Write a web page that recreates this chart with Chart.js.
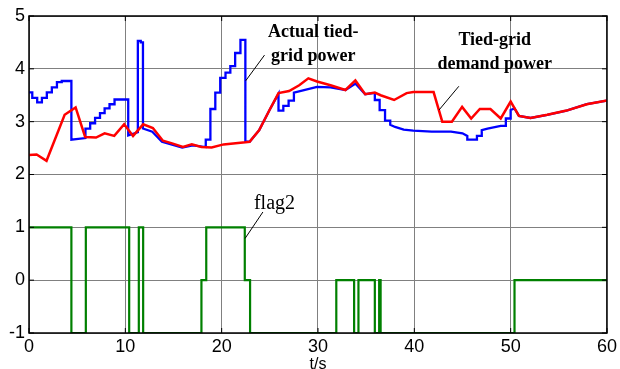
<!DOCTYPE html>
<html>
<head>
<meta charset="utf-8">
<script src="https://cdn.jsdelivr.net/npm/chart.js@4.4.1/dist/chart.umd.min.js"></script>
<style>
  html, body { margin: 0; padding: 0; background: #fff; overflow: hidden; }
  #wrap { width: 620px; height: 369px; overflow: hidden; }
</style>
</head>
<body>
<div id="wrap"><canvas id="chart" width="620" height="380"></canvas></div>
<script>
// Actual tied-grid power (blue), vertical steps given as repeated times
const blueT = [0, 0.34, 0.34, 0.85, 0.85, 1.34, 1.34, 1.85, 1.85, 2.37, 2.37, 2.9, 2.9, 3.4, 3.4, 4.4, 4.4, 5.86, 5.86, 6.35, 6.35, 6.86, 6.86, 7.37, 7.37, 7.85, 7.85, 8.36, 8.36, 8.88, 8.88, 10.3, 10.3, 11.3, 11.3, 11.6, 11.6, 11.83, 11.83, 12.8, 13.8, 15.9, 17.0, 18.35, 18.35, 18.83, 18.83, 19.34, 19.34, 19.85, 19.85, 20.4, 20.4, 20.9, 20.9, 21.4, 21.4, 21.95, 21.95, 22.46, 22.46, 22.9, 23.9, 24.97, 25.9, 25.9, 26.4, 26.4, 26.95, 26.95, 27.5, 27.5, 29.9, 31.3, 32.85, 33.9, 34.9, 35.7, 35.9, 35.9, 36.4, 36.4, 36.96, 36.96, 37.5, 37.5, 38.0, 38.9, 39.9, 41.8, 43.8, 45.0, 45.5, 45.5, 46.5, 46.5, 47.0, 47.0, 47.6, 48.97, 49.5, 49.5, 50.0, 50.0, 50.4, 50.86, 52.06, 53.8, 55.8, 57.9, 60];
const blueV = [3.555, 3.555, 3.45, 3.45, 3.365, 3.365, 3.45, 3.45, 3.555, 3.555, 3.65, 3.65, 3.75, 3.75, 3.77, 3.77, 2.66, 2.69, 2.87, 2.87, 2.97, 2.97, 3.07, 3.07, 3.16, 3.16, 3.25, 3.25, 3.33, 3.33, 3.42, 3.42, 2.74, 2.8, 4.53, 4.53, 4.5, 4.5, 2.87, 2.81, 2.62, 2.51, 2.55, 2.52, 2.66, 2.66, 3.24, 3.24, 3.55, 3.55, 3.83, 3.83, 3.93, 3.93, 4.05, 4.05, 4.3, 4.3, 4.55, 4.55, 2.62, 2.62, 2.84, 3.22, 3.53, 3.21, 3.21, 3.3, 3.3, 3.4, 3.4, 3.55, 3.66, 3.65, 3.6, 3.72, 3.52, 3.54, 3.54, 3.41, 3.41, 3.22, 3.22, 3.02, 3.02, 2.94, 2.9, 2.85, 2.83, 2.81, 2.81, 2.78, 2.73, 2.66, 2.66, 2.73, 2.73, 2.84, 2.87, 2.92, 2.92, 3.06, 3.06, 3.22, 3.25, 3.11, 3.07, 3.13, 3.21, 3.33, 3.4];

// Tied-grid demand power (red)
const redT = [0, 0.79, 1.82, 3.7, 4.84, 5.83, 6.96, 7.85, 8.85, 9.88, 10.8, 11.85, 12.86, 13.9, 14.85, 15.98, 16.9, 17.9, 18.96, 20.2, 22.46, 22.9, 23.9, 24.97, 25.9, 27.0, 28.05, 29.0, 29.9, 31.3, 32.85, 33.88, 34.9, 35.9, 36.5, 37.9, 39.2, 39.9, 42.0, 42.9, 43.9, 44.96, 45.9, 46.8, 47.9, 48.97, 50.0, 50.86, 52.06, 53.8, 55.8, 57.9, 60];
const redV = [2.37, 2.38, 2.26, 3.13, 3.27, 2.71, 2.7, 2.78, 2.73, 2.95, 2.73, 2.95, 2.88, 2.64, 2.59, 2.52, 2.57, 2.52, 2.51, 2.57, 2.61, 2.62, 2.84, 3.22, 3.54, 3.58, 3.69, 3.82, 3.76, 3.69, 3.6, 3.78, 3.52, 3.55, 3.5, 3.41, 3.54, 3.56, 3.56, 3.0, 3.0, 3.28, 3.06, 3.24, 3.24, 3.06, 3.38, 3.11, 3.07, 3.13, 3.21, 3.33, 3.4];

// flag2 (green): value holds from each time until the next one
const flagT = [0, 4.4, 5.9, 10.4, 11.4, 11.85, 17.9, 18.4, 22.4, 22.95, 31.9, 33.75, 34.2, 35.9, 36.35, 36.5, 50.4, 60];
const flagV = [1, -1, 1, -1, 1, -1, 0, 1, 0, -1, 0, -1, 0, -1, 0, -1, 0, 0];

const xTicks = [0, 10, 20, 30, 40, 50, 60];
const yTicks = [-1, 0, 1, 2, 3, 4, 5];

const pts = (t, v) => t.map((x, i) => ({ x, y: v[i] }));

// labels with leader lines, in data units
const notes = [
    { lines: ["Actual tied-", "grid power"], x: 29.5, y: [4.61, 4.15], bold: true, align: "center", lead: [22.5, 3.775, 24.45, 4.26] },
    { lines: ["Tied-grid", "demand power"], x: 48.35, y: [4.45, 3.99], bold: true, align: "center", lead: [42.56, 3.22, 44.62, 3.67] },
    { lines: ["flag2"], x: 23.35, y: [1.345], bold: false, align: "left", lead: [22.43, 0.79, 24.28, 1.29] },
];

const framePlugin = {
    id: "frame",
    afterDatasetsDraw(chart) {
        const { ctx, chartArea: a, scales: { x, y } } = chart;
        ctx.save();
        // leader lines and labels
        ctx.strokeStyle = "#000";
        ctx.lineWidth = 1;
        ctx.fillStyle = "#000";
        ctx.textBaseline = "alphabetic";
        notes.forEach(n => {
            ctx.beginPath();
            ctx.moveTo(x.getPixelForValue(n.lead[0]), y.getPixelForValue(n.lead[1]));
            ctx.lineTo(x.getPixelForValue(n.lead[2]), y.getPixelForValue(n.lead[3]));
            ctx.stroke();
            ctx.font = (n.bold ? "bold 18px" : "20px") + " 'Liberation Serif', 'Times New Roman', serif";
            ctx.textAlign = n.align;
            n.lines.forEach((s, i) => ctx.fillText(s, x.getPixelForValue(n.x), y.getPixelForValue(n.y[i])));
        });
        // box
        ctx.lineWidth = 1.5;
        ctx.strokeRect(a.left, a.top, a.right - a.left, a.bottom - a.top);
        // inward tick marks on all sides
        ctx.lineWidth = 1;
        ctx.beginPath();
        xTicks.forEach(v => {
            const px = x.getPixelForValue(v);
            ctx.moveTo(px, a.bottom); ctx.lineTo(px, a.bottom - 5);
            ctx.moveTo(px, a.top); ctx.lineTo(px, a.top + 5);
        });
        yTicks.forEach(v => {
            const py = y.getPixelForValue(v);
            ctx.moveTo(a.left, py); ctx.lineTo(a.left + 5, py);
            ctx.moveTo(a.right, py); ctx.lineTo(a.right - 5, py);
        });
        ctx.stroke();
        ctx.restore();
    }
};

const tickFont = { family: "'Liberation Sans', Arial, sans-serif", size: 18 };

new Chart(document.getElementById("chart"), {
    type: "line",
    data: {
        datasets: [
            // red is drawn over blue, as in the original
            { data: pts(blueT, blueV), borderColor: "#0000ff", borderWidth: 2.3, pointRadius: 0, tension: 0, order: 1 },
            { data: pts(redT, redV), borderColor: "#ff0000", borderWidth: 2.5, pointRadius: 0, tension: 0, order: 0 },
            { data: pts(flagT, flagV), borderColor: "#008000", borderWidth: 2.2, pointRadius: 0, stepped: "before", order: 2 },
        ],
    },
    options: {
        responsive: false,
        animation: false,
        layout: { padding: { left: 0, right: 8, top: 16, bottom: 0 } },
        plugins: { legend: { display: false }, tooltip: { enabled: false } },
        scales: {
            x: {
                type: "linear",
                min: 0,
                max: 60,
                afterBuildTicks: s => { s.ticks = xTicks.map(v => ({ value: v })); },
                afterFit: s => { s.height = 47; },
                ticks: { color: "#000", font: tickFont, padding: 3, maxRotation: 0 },
                grid: { color: "#808080", lineWidth: 1, drawTicks: false },
                border: { display: false },
                title: { display: true, text: "t/s", color: "#000", font: { family: "'Liberation Sans', Arial, sans-serif", size: 16 }, padding: { top: 0, bottom: 6 } },
            },
            y: {
                type: "linear",
                min: -1,
                max: 5,
                afterBuildTicks: s => { s.ticks = yTicks.map(v => ({ value: v })); },
                afterFit: s => { s.width = 29; },
                ticks: { color: "#000", font: tickFont, padding: 4 },
                grid: { color: "#808080", lineWidth: 1, drawTicks: false },
                border: { display: false },
            },
        },
    },
    plugins: [framePlugin],
});
</script>
</body>
</html>
